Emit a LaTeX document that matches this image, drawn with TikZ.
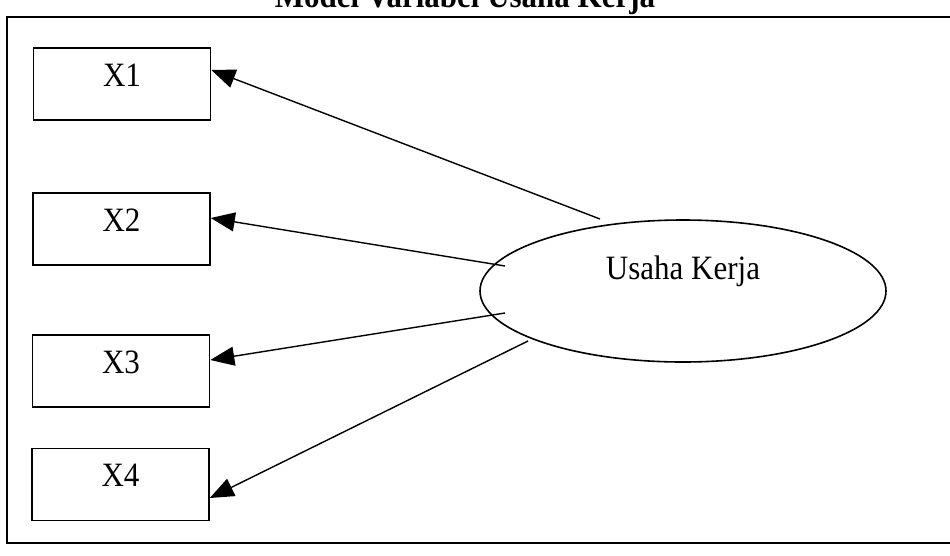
\documentclass[tikz,border=0pt]{standalone}
\usepackage{fontspec}
\setmainfont{Liberation Serif}
\usetikzlibrary{arrows.meta,shapes.geometric}
\newcommand\vstretch[1]{\scalebox{1}[1.1]{#1}}
\tikzset{
  varbox/.style={draw, line width=1.6pt, minimum width=177pt, minimum height=72pt,
    inner sep=0pt, text height=24pt, text depth=20pt,
    font=\fontsize{31}{36}\selectfont},
  latent/.style={draw, ellipse, line width=1.6pt, minimum width=406pt, minimum height=142pt,
    inner sep=0pt, text height=23pt, text depth=47pt,
    font=\fontsize{31}{36}\selectfont},
  arr/.style={line width=1.4pt, -{Triangle[length=24pt, width=19pt]}},
  frameline/.style={line width=2pt}
}
\begin{document}
\begin{tikzpicture}[x=1pt, y=-1pt]
\useasboundingbox (0,0) rectangle (950,555);
% frame
\draw[frameline] (950,17) -- (7,17) -- (7,543) -- (950,543);
% title (cut at the top)
\node[anchor=base, inner sep=0pt, font=\fontsize{31}{36}\selectfont\bfseries] (title) at (465,7) {\vstretch{Model Variabel Usaha Kerja}};
% boxes
\node[varbox] (x1) at (122,84) {\vstretch{X1}};
\node[varbox] (x2) at (121.5,229) {\vstretch{X2}};
\node[varbox] (x3) at (121,371) {\vstretch{X3}};
\node[varbox] (x4) at (120.5,484.5) {\vstretch{X4}};
% latent
\node[latent] (uk) at (683,291) {\vstretch{Usaha Kerja}};
% arrow starts
\coordinate (s1) at (600,219);
\coordinate (s2) at (505,266);
\coordinate (s3) at (505,313);
\coordinate (s4) at (528,341);
\draw[arr] (s1) -- ([yshift=14pt]x1.east);
\draw[arr] (s2) -- ([yshift=11pt]x2.east);
\draw[arr] (s3) -- ([yshift=11pt]x3.east);
\draw[arr] (s4) -- ([yshift=-13.5pt]x4.east);
\end{tikzpicture}
\end{document}
